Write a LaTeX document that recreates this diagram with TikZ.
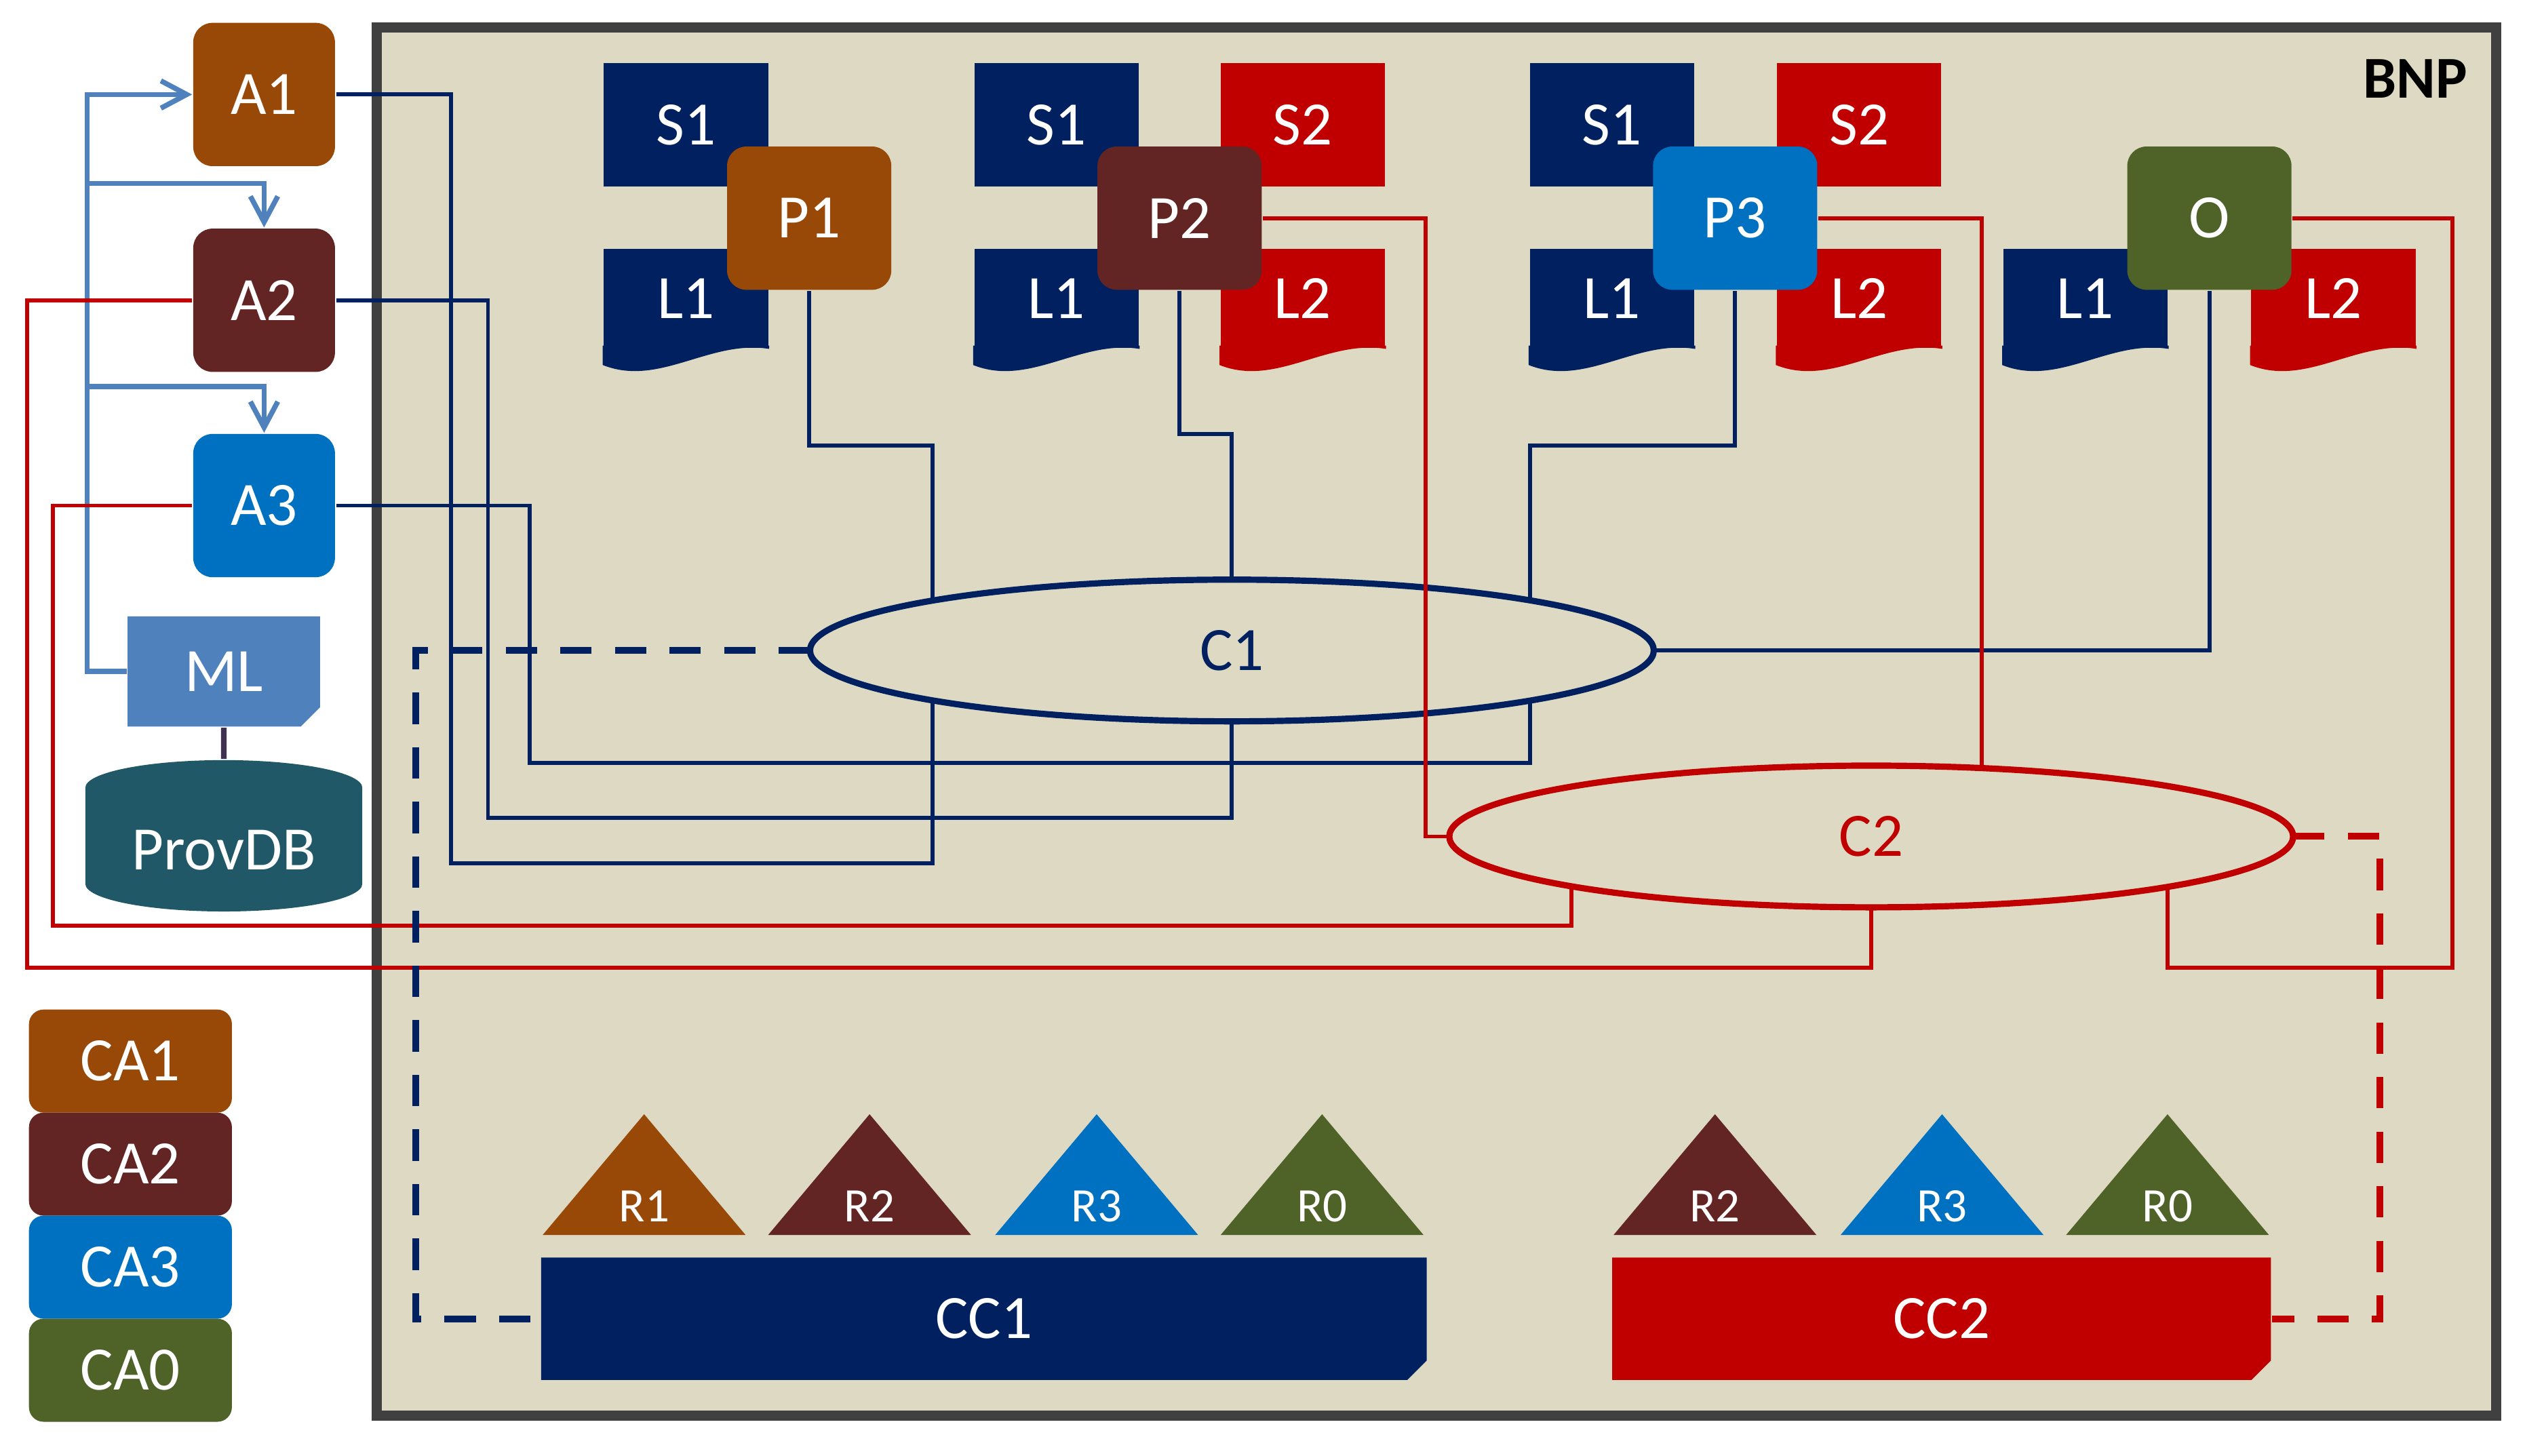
\documentclass[tikz,border=0pt]{standalone}
\usepackage{fontspec}
\setmainfont{Carlito}
\usepackage{xcolor}
\usepackage{tikz}
\usetikzlibrary{shapes.geometric,shapes.misc,arrows.meta}

\definecolor{navy}{HTML}{002060}
\definecolor{crim}{HTML}{C00000}
\definecolor{cbrown}{HTML}{984807}
\definecolor{cmaroon}{HTML}{632523}
\definecolor{cblue}{HTML}{0070C0}
\definecolor{cgreen}{HTML}{4F6228}
\definecolor{mlblue}{HTML}{4F81BD}
\definecolor{dbteal}{HTML}{215868}
\definecolor{dbline}{HTML}{403152}
\definecolor{beige}{HTML}{DDD9C3}
\definecolor{framegray}{HTML}{404040}

\begin{document}
\begin{tikzpicture}[x=0.1mm, y=-0.1mm,
        txt/.style   = {text=white, font=\fontsize{10.9}{12}\selectfont, inner sep=0pt},
        rtxt/.style  = {text=white, font=\fontsize{8.5}{10}\selectfont, inner sep=0pt},
        abox/.style  = {txt, rectangle, rounded corners=1.2mm, minimum width=8.8mm, minimum height=8.9mm, fill=#1},
        pbox/.style  = {abox=#1, minimum width=10.2mm},
        sbox/.style  = {txt, rectangle, minimum width=10.2mm, minimum height=7.7mm, fill=#1},
        lbox/.style  = {sbox=#1, minimum height=6.15mm},
        cabox/.style = {txt, rectangle, rounded corners=0.9mm, minimum width=12.6mm, minimum height=6.4mm, fill=#1},
        snip/.style  = {txt, chamfered rectangle, chamfered rectangle corners=south east,
                        chamfered rectangle xsep=0.6mm, chamfered rectangle ysep=0.6mm, fill=#1},
        dbase/.style = {txt, cylinder, shape border rotate=90, aspect=0.3,
                        minimum width=17.2mm, minimum height=9.4mm, fill=dbteal},
        cnet/.style  = {ellipse, draw=#1, text=#1, line width=1.1pt, inner sep=0pt, outer sep=0pt,
                        minimum width=52.4mm, minimum height=8.8mm, font=\fontsize{10.9}{12}\selectfont},
        wire/.style  = {draw=#1, line width=0.7pt},
        dashwire/.style = {draw=#1, line width=1.2pt, dash pattern=on 1.95mm off 1.44mm},
        feed/.style  = {draw=mlblue, line width=0.9pt, -{Straight Barb[length=1.6mm,width=1.7mm]}}
        ]
    \useasboundingbox (0,0) rectangle (1568,904);

    \node[draw=framegray, fill=beige, line width=1.8pt, inner sep=0pt,
          minimum width=131.6mm, minimum height=86.2mm] (bnp) at (892,448) {};
    \node[font=\fontsize{10.5}{12}\selectfont\bfseries, inner sep=0pt, anchor=east] (bnplbl) at (1533,49) {BNP}; %label

    % sources and logs
    \node[sbox=navy] (s1a) at (426,77.5)    {S1};
    \node[lbox=navy] (l1a) at (426,185.25)  {L1};
    \node[sbox=navy] (s1b) at (656,77.5)    {S1};
    \node[sbox=crim] (s2b) at (809,77.5)    {S2};
    \node[lbox=navy] (l1b) at (656,185.25)  {L1};
    \node[lbox=crim] (l2b) at (809,185.25)  {L2};
    \node[sbox=navy] (s1c) at (1001,77.5)   {S1};
    \node[sbox=crim] (s2c) at (1154.5,77.5) {S2};
    \node[lbox=navy] (l1c) at (1001,185.25) {L1};
    \node[lbox=crim] (l2c) at (1154.5,185.25) {L2};
    \node[lbox=navy] (l1d) at (1295,185.25) {L1};
    \node[lbox=crim] (l2d) at (1449,185.25) {L2};
    \foreach \n/\col in {l1a/navy, l1b/navy, l2b/crim, l1c/navy, l2c/crim, l1d/navy, l2d/crim}
        \fill[\col] ([yshift=0.2mm]\n.south east) -- (\n.south east)
            .. controls +(-37,-6) and +(35,14) .. ([yshift=-1mm]\n.south west)
            -- ([yshift=0.2mm]\n.south west) -- cycle;

    \node[pbox=cbrown]  (p1) at (502.5,135.5)  {P1};
    \node[pbox=cmaroon] (p2) at (732.5,135.5)  {P2};
    \node[pbox=cblue]   (p3) at (1077.5,135.5) {P3};
    \node[pbox=cgreen]  (o)  at (1372,135.5)   {O};

    \node[abox=cbrown]  (a1) at (164,58.7)  {A1};
    \node[abox=cmaroon] (a2) at (164,186.5) {A2};
    \node[abox=cblue]   (a3) at (164,314)   {A3};

    \node[snip=mlblue, minimum width=11.95mm, minimum height=6.85mm] (ml) at (139,417) {ML};
    \node[dbase] (db) at (139,528) {ProvDB};
    \draw[draw=dbline, line width=1pt] (ml) -- (db);

    \node[cnet=navy] (c1) at (765,404)    {C1};
    \node[cnet=crim] (c2) at (1162,519.5) {C2};

    \node[snip=navy, minimum width=55mm, minimum height=7.6mm]   (cc1) at (611,819)    {CC1};
    \node[snip=crim, minimum width=40.9mm, minimum height=7.6mm] (cc2) at (1205.7,819) {CC2};

    \foreach \x/\col/\lab [count=\i] in {400/cbrown/R1, 540/cmaroon/R2, 681/cblue/R3, 821/cgreen/R0,
                                         1065/cmaroon/R2, 1206/cblue/R3, 1346/cgreen/R0}
        \fill[\col] (\x-63,767) -- (\x,692) -- (\x+63,767) -- cycle node[rtxt] (r\i) at (\x,749) {\lab};

    \foreach \n/\col/\y in {1/cbrown/659, 2/cmaroon/723, 3/cblue/787, 0/cgreen/851}
        \node[cabox=\col] (ca\n) at (81,\y) {CA\n};

    % ML feeds
    \coordinate (j2) at (54.5,114);
    \coordinate (j3) at (54.5,240);
    \draw[feed] (ml.west) -- ++(-24.5,0) |- (a1.west);
    \draw[feed] (j2) -| (a2.north);
    \draw[feed] (j3) -| (a3.north);

    % C1 links
    \draw[wire=navy] (p1.south) -- ++(0,96) -| ([xshift=-18.6mm,yshift=3.1mm]c1.center);
    \draw[wire=navy] (p2.south) -- ++(0,89) -| (c1.north);
    \draw[wire=navy] (p3.south) -- ++(0,96) -| ([xshift=18.5mm,yshift=3.12mm]c1.center);
    \draw[wire=navy] (o.south) |- (c1.east);
    \draw[wire=navy] (a1.east) -| (280,536) -| ([xshift=-18.6mm,yshift=-3.1mm]c1.center);
    \draw[wire=navy] (a2.east) -| (303,508) -| (c1.south);
    \draw[wire=navy] (a3.east) -| (329,474) -| ([xshift=18.5mm,yshift=-3.12mm]c1.center);

    % C2 links
    \draw[wire=crim] (p2.east) -- ++(101,0) |- (c2.west);
    \draw[wire=crim] (p3.east) -| ([xshift=6.85mm,yshift=4.25mm]c2.center);
    \draw[wire=crim] (o.east) -| (1523,601) -| ([xshift=18.4mm,yshift=-3.13mm]c2.center);
    \draw[wire=crim] (a2.west) -| (17,601) -| (c2.south);
    \draw[wire=crim] (a3.west) -| (33,575) -| ([xshift=-18.6mm,yshift=-3.1mm]c2.center);

    \draw[dashwire=navy] (c1.west) -| (258,819) -- (cc1.west);
    \draw[dashwire=crim] (c2.east) -| (1478,819) -- (cc2.east);
\end{tikzpicture}
\end{document}
